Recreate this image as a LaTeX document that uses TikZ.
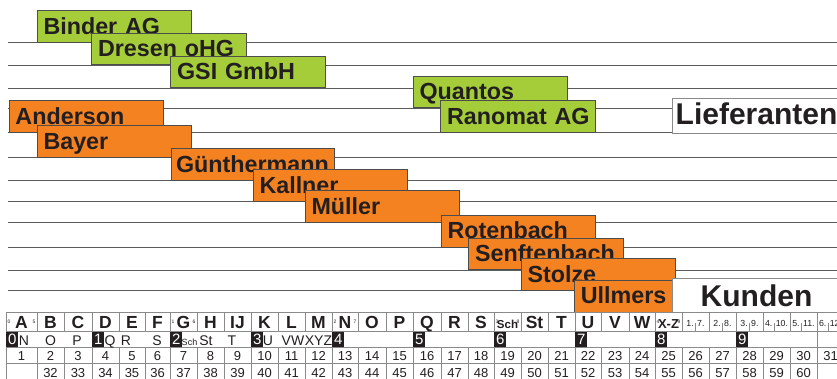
\documentclass[tikz,border=0pt]{standalone}
\usepackage{fontspec}
\setmainfont{Liberation Sans}
\definecolor{grn}{HTML}{A5CD39}
\definecolor{org}{HTML}{F58220}
\definecolor{txt}{HTML}{231F20}
\definecolor{rule}{HTML}{5A5A5A}
\definecolor{bordr}{HTML}{4D4D4D}
\definecolor{tgray}{HTML}{8A8A8A}
\tikzset{
  hline/.style={draw=rule, line width=0.9pt},
  tag/.style={draw=bordr, line width=0.8pt, inner xsep=6.4pt, inner ysep=0pt,
    text height=23.5pt, text depth=8pt, text width=141.7pt, align=left,
    anchor=south west, text=txt, font=\fontsize{23.3pt}{26pt}\selectfont\bfseries},
  gtag/.style={tag, fill=grn},
  otag/.style={tag, fill=org},
  bigbox/.style={draw=tgray, line width=0.8pt, fill=white, anchor=north west, inner sep=0pt,
    minimum width=175pt},
  bigtxt/.style={anchor=base west, text=txt, inner sep=0pt, font=\fontsize{30pt}{32pt}\selectfont\bfseries},
  tline/.style={draw=tgray, line width=0.8pt},
  rowone/.style={anchor=base, text=txt, inner sep=0pt, font=\fontsize{17.5pt}{18pt}\selectfont\bfseries},
  tiny/.style={anchor=center, text=txt, inner sep=0pt, font=\fontsize{5pt}{5pt}\selectfont},
  small/.style={anchor=base, text=txt, inner sep=0pt, font=\fontsize{8.8pt}{9pt}\selectfont},
  rowtwo/.style={anchor=base, text=txt, inner sep=0pt, font=\fontsize{14pt}{15pt}\selectfont},
  blk/.style={anchor=north west, fill=txt, text=white, inner sep=0pt, minimum width=12pt,
    minimum height=15.5pt, font=\fontsize{15pt}{15pt}\selectfont},
  num/.style={anchor=base, text=txt, inner sep=0pt, font=\fontsize{13pt}{14pt}\selectfont}
}
\begin{document}
\begin{tikzpicture}[x=1pt,y=-1pt]
\useasboundingbox (0,0) rectangle (837,379);
\fill[white] (0,0) rectangle (837,379);
% ruled lines
\foreach \y in {42.7,65.3,88,108.3,132.7,157.5,180.7,201.5,222.7,247.3,270,290.5}
  \draw[hline] (8,\y) -- (837,\y);
% suppliers (green)
\node[gtag] (binder) at (36.7,42.7) {\mbox{Binder AG}};
\node[gtag] (dresen) at (91.3,65.3) {\mbox{Dresen oHG}};
\node[gtag] (gsi) at (170.3,88) {\mbox{GSI GmbH}};
\node[gtag] (quantos) at (412.7,108.3) {Quantos};
\node[gtag] (ranomat) at (440.3,132.7) {\mbox{Ranomat AG}};
% customers (orange)
\node[otag] (anderson) at (8.7,132.7) {Anderson};
\node[otag] (bayer) at (36.7,157.5) {Bayer};
\node[otag, inner xsep=5pt, text width=153.6pt] (guenther) at (170.7,180.7) {Günthermann};
\node[otag] (kallner) at (252.7,201.5) {Kallner};
\node[otag] (mueller) at (304.7,222.7) {Müller};
\node[otag] (rotenbach) at (440.7,247.3) {Rotenbach};
\node[otag] (senften) at (468.3,270) {Senftenbach};
\node[otag] (stolze) at (520.7,290.5) {Stolze};
\node[otag] (ullmers) at (574,312.3) {Ullmers};
% label boxes
\node[bigbox, minimum height=35pt] (liefer) at (671.7,97.7) {};
\node[bigtxt] (liefertxt) at (675.5,125) {Lieferanten};
\node[bigbox, minimum height=34pt] (kunden) at (671.7,278.3) {};
\node[bigtxt] (kundentxt) at (700.5,306.5) {Kunden};
% table
\fill[white] (6,312.3) rectangle (837,380);
\foreach \y in {312.3,331.5,347,363.5}
  \draw[tline] (6,\y) -- (837,\y);
\draw[tline] (6,312.3) -- (6,380);
\draw[tline] (817,312.3) -- (817,380);
\foreach \b in {37,64,92,119,145,170,197,224,251,278,305,332,358,386,413,441,468,494,521,548,575,601,629,655,682,709,736,763,790}{
  \draw[tline] (\b,312.3) -- (\b,331.5);
  \draw[tline] (\b,347) -- (\b,380);
}
% row 1 letters
\foreach \a/\b/\t [count=\i] in {6/37/A,37/64/B,64/92/C,92/119/D,119/145/E,145/170/F,170/197/G,197/224/H,224/251/IJ,251/278/K,278/305/L,305/332/M,332/358/N,358/386/O,386/413/P,413/441/Q,441/468/R,468/494/S,494/521/{\fontsize{11.5pt}{12pt}\selectfont Sch},521/548/St,548/575/T,575/601/U,601/629/V,629/655/W,655/682/{\fontsize{13pt}{13pt}\selectfont X-Z}}
  \node[rowone] (h\i) at ({(\a+\b)/2},328.5) {\t};
% tiny digits beside A, G, N, Sch, X-Z
\foreach \a/\b/\l/\r [count=\i] in {6/37/0/5,170/197/1/6,332/358/2/7,494/521/3/8,655/682/4/9}{
  \node[tiny] (sl\i) at (\a+3,322) {\l};
  \node[tiny] (sr\i) at (\b-3,322) {\r};
}
% small split cells
\foreach \a/\l/\r [count=\i] in {682/1/7,709/2/8,736/3/9,763/4/10,790/5/11,817/6/12}{
  \node[small] (sc\i) at (\a+13.5,326.5) {\l.\,\textcolor{tgray}{\rule[-5pt]{0.5pt}{9pt}}\,\r.};
}
% row 2
\foreach \a/\d in {6/0,92/1,170/2,251/3,332/4,413/5,494/6,575/7,655/8,736/9}
  \node[blk] (k\d) at (\a,331.5) {\d};
\foreach \x/\t [count=\i] in {24/N,50.5/O,77/P,110/Q,126/R,157/S,206/St,232/T,268/U,293/VW,318.5/XYZ}
  \node[rowtwo] (g\i) at (\x,345.3) {\t};
\node[anchor=base, text=txt, inner sep=0pt, font=\fontsize{9pt}{9pt}\selectfont] (gsch) at (189.5,345.3) {Sch};
% rows 3 and 4
\foreach \a/\b [count=\i] in {6/37,37/64,64/92,92/119,119/145,145/170,170/197,197/224,224/251,251/278,278/305,305/332,332/358,358/386,386/413,413/441,441/468,468/494,494/521,521/548,548/575,575/601,601/629,629/655,655/682,682/709,709/736,736/763,763/790,790/817,817/844}{
  \node[num] (n\i) at ({(\a+\b)/2},360.5) {\i};
  \pgfmathtruncatemacro\m{\i+30}
  \ifnum\i>1 \ifnum\i<31
    \node[num] (m\i) at ({(\a+\b)/2},377.3) {\m};
  \fi\fi
}
\end{tikzpicture}
\end{document}
